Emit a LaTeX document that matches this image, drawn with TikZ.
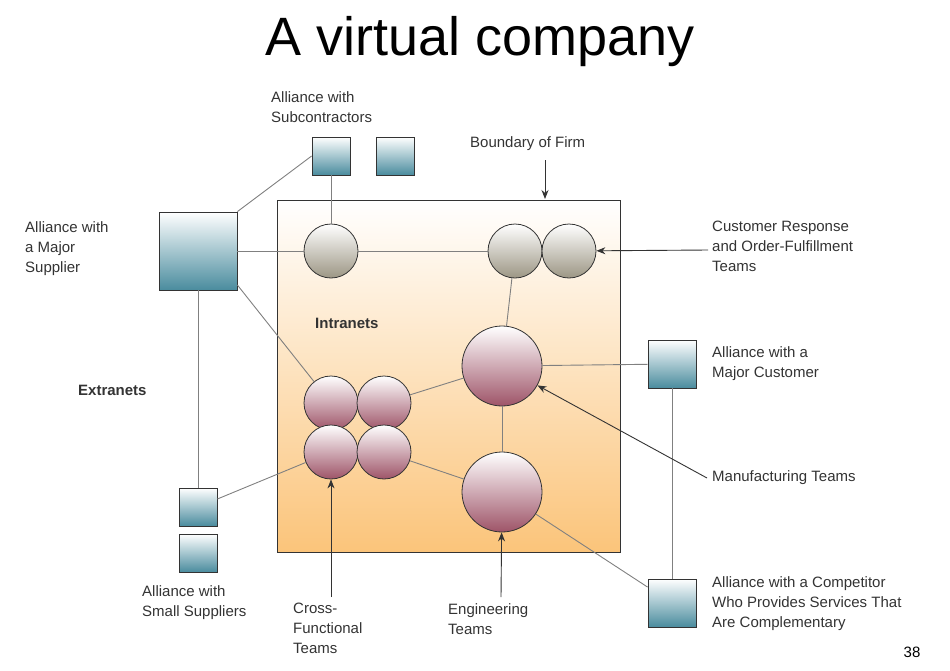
\documentclass[tikz,border=0pt]{standalone}
\usepackage{fontspec}
\setmainfont{Liberation Sans}
\usetikzlibrary{arrows.meta}
\definecolor{txt}{HTML}{333333}
\definecolor{teal}{HTML}{4A8C9E}
\definecolor{olive}{HTML}{9C9684}
\definecolor{rose}{HTML}{9E5468}
\definecolor{peach}{HTML}{FBC47A}
\tikzset{
  box/.style={draw=txt, line width=0.8pt, top color=white, bottom color=teal, inner sep=0pt, minimum size=#1},
  gray team/.style={circle, draw=txt, line width=0.8pt, top color=white, bottom color=olive, inner sep=0pt, minimum size=54pt},
  pink team/.style={circle, draw=txt, line width=0.8pt, top color=white, bottom color=rose, inner sep=0pt, minimum size=#1},
  link/.style={draw=gray, line width=0.9pt},
  pointer/.style={draw=txt, line width=0.9pt, -{Stealth[length=9pt,width=7pt]}},
  lbl/.style={text=txt, font=\fontsize{15}{20}\selectfont, align=left, anchor=north west, inner sep=0pt},
}
\begin{document}
\begin{tikzpicture}[x=1pt, y=-1pt]
\useasboundingbox (0,0) rectangle (950,670);
\node (title) at (480,42) {\fontsize{54}{60}\selectfont A virtual company};
% firm
\node[draw=txt, line width=0.9pt, top color=white, bottom color=peach, minimum width=343pt, minimum height=352pt, inner sep=0pt] (firm) at (448.5,376) {};
% alliances
\node[box=38pt] (sub1) at (331,156) {};
\node[box=38pt] (sub2) at (395,156) {};
\node[box=78pt] (major) at (198,251) {};
\node[box=38pt] (small1) at (198,507) {};
\node[box=38pt] (small2) at (198,553) {};
\node[box=48pt] (cust) at (672,364) {};
\node[box=48pt] (comp) at (672,603) {};
% teams
\node[gray team] (g1) at (331,251) {};
\node[gray team] (g2) at (515,251) {};
\node[gray team] (g3) at (569,251) {};
\node[pink team=80pt] (manu) at (502,366) {};
\node[pink team=80pt] (eng) at (502,492) {};
\node[pink team=54pt] (c1) at (331,403) {};
\node[pink team=54pt] (c2) at (384,403) {};
\node[pink team=54pt] (c3) at (331,452) {};
\node[pink team=54pt] (c4) at (384,452) {};
% links
\draw[link] (sub1) -- (g1);
\draw[link] (sub1.west) -- (major.north east);
\draw[link] (major.east |- 0,285) -- (c1);
\draw[link] (major) -- (small1);
\draw[link] (small1) -- (c3);
\draw[link] (cust) -- (comp);
\draw[link] (major) -- (g1);
\draw[link] (g1) -- (g2);
\draw[link] (c2) -- (manu);
\draw[link] (c4) -- (eng);
\draw[link] (manu) -- (eng);
\draw[link] (manu) -- (g2);
\draw[link] (manu) -- (cust);
\draw[link] (eng) -- (comp);
% labels
\node[lbl] (lsub) at (271,91) {Alliance with\\Subcontractors};
\node[lbl] (lbound) at (470,136) {Boundary of Firm};
\node[lbl] (lmajor) at (25,221) {Alliance with\\a Major\\Supplier};
\node[lbl] (lresp) at (712,221) {Customer Response\\and Order-Fulfillment\\Teams};
\node[lbl, font=\bfseries\fontsize{15}{20}\selectfont] (lintra) at (315,318) {Intranets};
\node[lbl, font=\bfseries\fontsize{15}{20}\selectfont] (lextra) at (78,385) {Extranets};
\node[lbl] (lcust) at (712,346) {Alliance with a\\Major Customer};
\node[lbl] (lmanu) at (712,470) {Manufacturing Teams};
\node[lbl] (lsmall) at (142,585) {Alliance with\\Small Suppliers};
\node[lbl] (lcross) at (293,603) {Cross-\\Functional\\Teams};
\node[lbl] (leng) at (448,603) {Engineering\\Teams};
\node[lbl] (lcomp) at (712,576) {Alliance with a Competitor\\Who Provides Services That\\Are Complementary};
\node[text=black, font=\fontsize{15}{18}\selectfont] (page) at (912,652) {38};
% pointers
\coordinate (pb) at (545,160);
\coordinate (pbe) at (545,199);
\coordinate (pr) at (708,250);
\coordinate (pm) at (707,478);
\coordinate (pe) at (501,597);
\coordinate (pc) at (331,597);
\draw[pointer] (pb) -- (pbe);
\draw[pointer] (pr) -- (g3);
\draw[pointer] (pm) -- (manu);
\draw[pointer] (pe) -- (eng);
\draw[pointer] (pc) -- (c3);
\end{tikzpicture}
\end{document}
